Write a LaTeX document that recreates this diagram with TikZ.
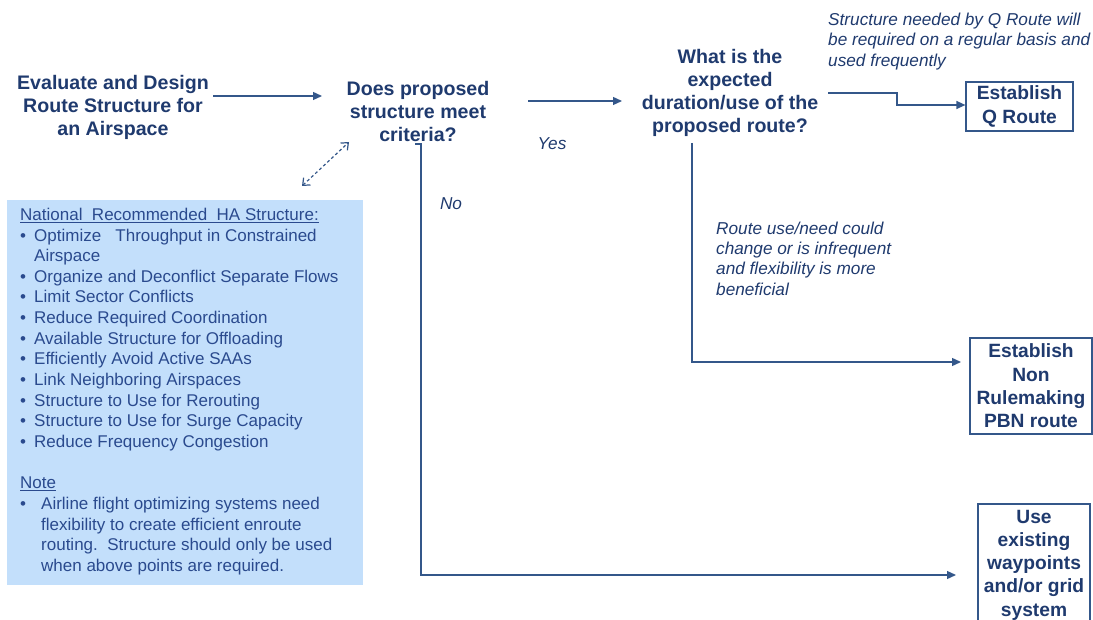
\documentclass[tikz,border=0pt]{standalone}
\usepackage{fontspec}
\setmainfont{Liberation Sans}
\usetikzlibrary{arrows.meta,calc}
\definecolor{txt}{HTML}{1F3A6E}
\definecolor{ln}{HTML}{34578A}
\definecolor{boxtxt}{HTML}{2A4A8E}
\definecolor{fillb}{HTML}{C3DFFB}
\newcommand{\bl}[1]{\makebox[14pt][l]{\textbullet}#1}
\newcommand{\ind}[1]{\hspace*{14pt}#1}
\begin{document}
\begin{tikzpicture}[x=1pt,y=-1pt,
  title/.style={font=\fontsize{19.6}{23}\selectfont\bfseries, text=txt, align=center, inner sep=0},
  lab/.style={font=\fontsize{17.2}{20.4}\selectfont\itshape, text=txt, align=left, inner sep=0},
  outbox/.style={draw=ln, line width=1.2pt, fill=white, font=\fontsize{19.2}{23.3}\selectfont\bfseries, text=txt, align=center, inner sep=0},
  arr/.style={draw=ln, line width=1.3pt, -{Triangle[length=9pt,width=8pt]}},
  ln/.style={draw=ln, line width=1.3pt}
]
\useasboundingbox (0,0) rectangle (1093,620);
\begin{scope}
\clip (0,0) rectangle (1093,620);

% blue box
\fill[fillb] (7,200) rectangle (363,585);
\node[anchor=west, inner sep=0, align=left, text=boxtxt,
      font=\fontsize{17}{20.65}\selectfont] (ha) at (20,391.5) {%
\underline{National\ \ Recommended\ \ HA\ Structure:}\\
\bl{Optimize\ \ \ Throughput in Constrained}\\
\ind{Airspace}\\
\bl{Organize and Deconflict Separate Flows}\\
\bl{Limit Sector Conflicts}\\
\bl{Reduce Required Coordination}\\
\bl{Available Structure for Offloading}\\
\bl{Efficiently Avoid Active SAAs}\\
\bl{Link Neighboring Airspaces}\\
\bl{Structure to Use\ for Rerouting}\\
\bl{Structure to Use\ for Surge Capacity}\\
\bl{Reduce Frequency Congestion}\\
\mbox{}\\
\underline{Note}\\
\makebox[21pt][l]{\textbullet}Airline flight optimizing\ systems need\\
\hspace*{21pt}flexibility\ to create efficient enroute\\
\hspace*{21pt}routing.\ \ Structure should only be used\\
\hspace*{21pt}when above points are required.};

% main nodes
\node[title] (ev) at (113,107) {Evaluate and Design\\Route Structure for\\an Airspace};
\node[title] (dp) at (418,111) {Does proposed\\structure meet\\criteria?};
\node[title] (wh) at (730,93) {What is the\\expected\\duration/use of the\\proposed route?};

\node[outbox, minimum width=107pt, minimum height=49pt] (q) at (1019.5,106.5) {Establish\\Q Route};
\node[outbox, minimum width=122pt, minimum height=96pt] (pbn) at (1031,386) {Establish\\Non\\Rulemaking\\PBN route};
\node[outbox, minimum width=112pt, minimum height=122pt] (use) at (1034,565) {Use\\existing\\waypoints\\and/or grid\\system};

% labels
\node[lab, anchor=west] (lq) at (828,41.5) {Structure needed by Q Route will\\be required on a regular basis and\\used frequently};
\node[lab, anchor=west] (lr) at (716,258.5) {Route use/need could\\change or is infrequent\\and flexibility is more\\beneficial};
\node[lab] (yes) at (552,144) {Yes};
\node[lab] (no) at (451,204) {No};

% coordinates
\coordinate (a1) at (213,96);
\coordinate (a2) at (322,96);
\coordinate (b1) at (528,101);
\coordinate (b2) at (622,101);
\coordinate (c1) at (828,93);
\coordinate (c2) at (897,93);
\coordinate (c3) at (897,105);
\coordinate (d1) at (692,143);
\coordinate (d2) at (692,362);
\coordinate (d3) at (961,362);
\coordinate (e0) at (415,144);
\coordinate (e1) at (421,144);
\coordinate (e2) at (421,575);
\coordinate (e3) at (956,575);
\coordinate (f1) at (302,186);
\coordinate (f2) at (349,142);

\draw[arr] (a1) -- (a2);
\draw[arr] (b1) -- (b2);
\draw[arr] (c1) -- (c2) -- (c3) -- (c3 -| q.west);
\draw[arr] (d1) -- (d2) -- (d3);
\draw[arr] (e0) -- (e1) -- (e2) -- (e3);
\draw[draw=ln, line width=1.2pt, dash pattern=on 3pt off 2.5pt,
      {Straight Barb[length=6pt,width=10pt]}-{Straight Barb[length=6pt,width=10pt]}] (f1) -- (f2);
\end{scope}
\end{tikzpicture}
\end{document}
